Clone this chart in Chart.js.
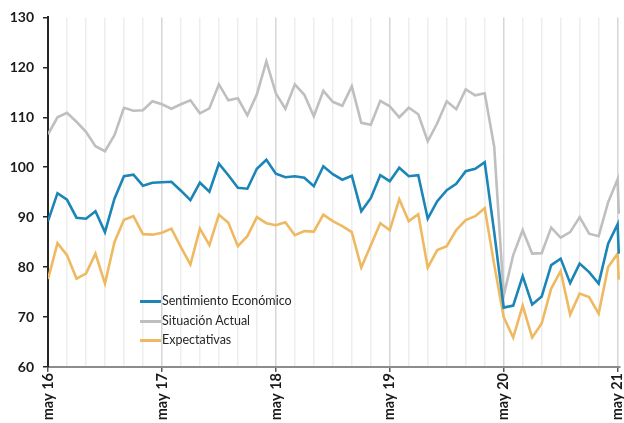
<!DOCTYPE html>
<html>
<head>
<meta charset="utf-8">
<script src="https://cdn.jsdelivr.net/npm/chart.js@4.4.1/dist/chart.umd.min.js"></script>
<style>
  html, body { margin: 0; padding: 0; background: #fff; overflow: hidden; }
  #wrap { position: relative; width: 624px; height: 423px; overflow: hidden; }
  #legend { position: absolute; left: 140px; top: 291px; font-family: Lato, "Liberation Sans", sans-serif; font-size: 12.5px; color: #262626; }
  #legend div { height: 19.5px; line-height: 19.5px; white-space: nowrap; }
  #legend span.sw { display: inline-block; width: 21px; height: 3px; vertical-align: middle; margin-right: 1px; }
</style>
</head>
<body>
<div id="wrap">
  <canvas id="chart" width="624" height="423"></canvas>
  <div id="legend"></div>
</div>
<script>
// meses desde may-16 (el último dato cae justo después de may-21)
var meses = [];
for (var m = 0; m <= 60; m++) meses.push(m);
meses.push(60.12);

var etiquetasX = ['may 16', 'may 17', 'may 18', 'may 19', 'may 20', 'may 21'];

var sentimiento = [
  89.2, 94.8, 93.5, 89.9, 89.7, 91.2, 87.0, 93.7, 98.2, 98.5, 96.3, 96.9,
  97.0, 97.1, 95.3, 93.4, 96.9, 95.1, 100.7, 98.4, 95.9, 95.7, 99.7, 101.5,
  98.7, 98.0, 98.2, 97.9, 96.2, 100.2, 98.6, 97.5, 98.3, 91.2, 93.8, 98.4,
  97.2, 99.9, 98.2, 98.4, 89.7, 93.2, 95.4, 96.7, 99.2, 99.7, 101.0, 87.0,
  71.9, 72.3, 78.2, 72.5, 74.1, 80.4, 81.7, 76.8, 80.7, 79.0, 76.7, 84.7,
  88.6, 82.7
];
var situacion = [
  106.6, 110.0, 110.9, 109.1, 107.1, 104.2, 103.2, 106.4, 111.9, 111.3, 111.4, 113.2,
  112.6, 111.7, 112.6, 113.4, 110.8, 111.8, 116.6, 113.4, 113.8, 110.4, 114.6, 121.2,
  114.8, 111.7, 116.6, 114.5, 110.2, 115.3, 113.1, 112.3, 116.2, 108.9, 108.5, 113.3,
  112.2, 110.0, 111.9, 110.6, 105.2, 108.8, 113.2, 111.6, 115.6, 114.4, 114.8, 104.1,
  74.3, 82.4, 87.4, 82.7, 82.8, 87.9, 85.9, 87.0, 90.0, 86.7, 86.2, 93.0,
  97.6, 90.7
];
var expectativas = [
  77.6, 84.8, 82.4, 77.7, 78.7, 82.7, 76.7, 85.0, 89.5, 90.2, 86.6, 86.5,
  86.9, 87.7, 84.0, 80.5, 87.7, 84.4, 90.5, 88.9, 84.2, 86.2, 90.0, 88.8,
  88.4, 89.0, 86.4, 87.2, 87.1, 90.5, 89.2, 88.2, 87.0, 79.9, 84.4, 88.8,
  87.4, 93.6, 89.2, 90.6, 79.9, 83.4, 84.2, 87.4, 89.4, 90.2, 91.8, 80.5,
  70.0, 65.9, 72.3, 65.9, 68.7, 75.7, 79.2, 70.5, 74.7, 74.0, 70.7, 80.0,
  82.7, 77.5
];

function puntos(serie) {
  return serie.map(function (v, i) { return { x: meses[i], y: v }; });
}

var series = [
  { label: 'Sentimiento Económico', data: sentimiento, color: '#1a85b6' },
  { label: 'Situación Actual', data: situacion, color: '#bfbfbf' },
  { label: 'Expectativas', data: expectativas, color: '#efb961' }
];

Chart.defaults.font.family = 'Lato, "Liberation Sans", sans-serif';

var ctx = document.querySelector('#chart').getContext('2d');
var chart = new Chart(ctx, {
  type: 'line',
  data: {
    datasets: series.map(function (s) {
      return {
        label: s.label,
        data: puntos(s.data),
        borderColor: s.color,
        backgroundColor: s.color,
        borderWidth: 2.6,
        pointRadius: 0,
        tension: 0,
        fill: false
      };
    })
  },
  options: {
    responsive: false,
    animation: false,
    layout: { padding: { top: 10, right: 4, left: 0, bottom: 0 } },
    plugins: { legend: { display: false }, tooltip: { enabled: false } },
    scales: {
      x: {
        type: 'linear',
        min: 0,
        max: 60.25,
        afterBuildTicks: function (scale) {
          var t = [];
          for (var v = 0; v <= 60; v += 2) t.push({ value: v });
          scale.ticks = t;
        },
        afterFit: function (scale) {
          scale.height = 56;
          scale.paddingLeft = 0;
          scale.paddingRight = 0;
        },
        border: { display: true, color: '#8c8c8c', width: 2 },
        grid: {
          color: function (c) { return c.tick && c.tick.value % 12 === 0 ? '#d6d6d6' : '#eeeeee'; },
          lineWidth: 1.5,
          tickLength: 5,
          tickColor: function (c) { return c.tick && c.tick.value % 12 === 0 ? '#595959' : 'rgba(0,0,0,0)'; }
        },
        ticks: {
          autoSkip: false,
          minRotation: 90,
          maxRotation: 90,
          padding: 1,
          color: '#1a1a1a',
          font: { size: 14.5, weight: 'bold' },
          callback: function (v) { return v % 12 === 0 ? etiquetasX[v / 12] : ''; }
        }
      },
      y: {
        min: 60,
        max: 130,
        afterFit: function (scale) { scale.width = 48; },
        border: { display: true, color: '#262626', width: 2 },
        grid: { drawOnChartArea: false, tickLength: 5, tickColor: '#262626', lineWidth: 1.5 },
        ticks: {
          stepSize: 10,
          padding: 9,
          color: '#1a1a1a',
          font: { size: 14, weight: 'bold' }
        }
      }
    }
  }
});

var leg = document.querySelector('#legend');
series.forEach(function (s) {
  var row = document.createElement('div');
  row.innerHTML = '<span class="sw" style="background:' + s.color + '"></span>' + s.label;
  leg.appendChild(row);
});
</script>
</body>
</html>
